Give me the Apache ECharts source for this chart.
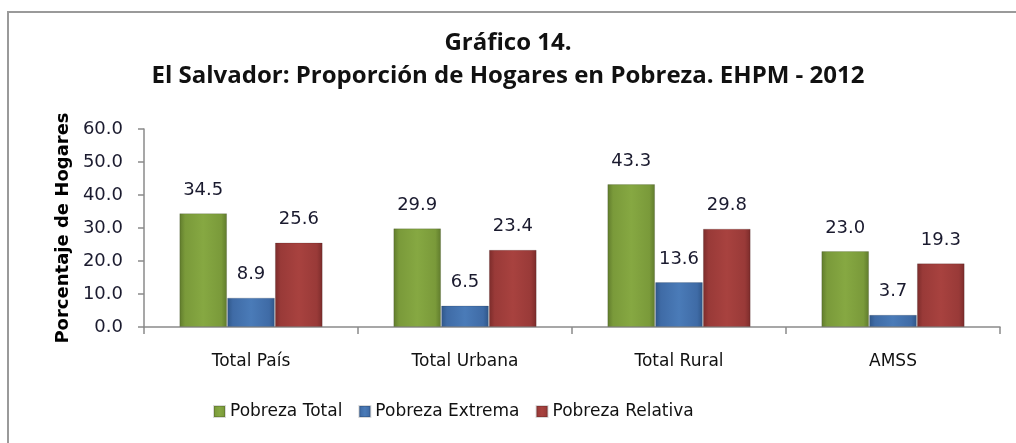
<!DOCTYPE html>
<html>
<head>
<meta charset="utf-8">
<script src="https://cdn.jsdelivr.net/npm/echarts@6/dist/echarts.min.js"></script>
<style>
html,body{margin:0;padding:0;background:#fff;}
#chart{width:1016px;height:443px;}
</style>
</head>
<body>
<div id="chart"></div>
<script>
var categories=['Total País','Total Urbana','Total Rural','AMSS'];
var pobrezaTotal=[34.5,29.9,43.3,23.0];
var pobrezaExtrema=[8.9,6.5,13.6,3.7];
var pobrezaRelativa=[25.6,23.4,29.8,19.3];
var yTicks=[0,10,20,30,40,50,60];

var chart=echarts.init(document.getElementById('chart'));

// degradado horizontal para imitar el bisel de las barras
function bevel(dark,base,light){
	return {
		type:'linear',x:0,y:0,x2:1,y2:0,
		colorStops:[
			{offset:0,color:dark},
			{offset:0.12,color:base},
			{offset:0.5,color:light},
			{offset:0.88,color:base},
			{offset:1,color:dark}
		]
	};
}

var labelStyle={
	show:true,
	position:'top',
	distance:14,
	fontFamily:'DejaVu Sans',
	fontSize:18,
	color:'#1a1a2e',
	formatter:function(p){return p.value.toFixed(1);}
};

function barSeries(name,data,color){
	return {
		name:name,
		type:'bar',
		data:data,
		barGap:'0%',
		barCategoryGap:'33%',
		itemStyle:{color:color,borderColor:'rgba(0,0,0,0.15)',borderWidth:1},
		label:labelStyle
	};
}

var option={
	animation:false,
	title:{
		text:'Gráfico 14.\nEl Salvador: Proporción de Hogares en Pobreza. EHPM - 2012',
		left:'center',
		top:22,
		textStyle:{
			fontFamily:'Open Sans',
			fontWeight:'bold',
			fontSize:24,
			lineHeight:33,
			color:'#111'
		}
	},
	legend:{
		bottom:18,
		left:208,
		itemWidth:11,
		itemHeight:11,
		itemGap:16,
		icon:'rect',
		textStyle:{fontFamily:'DejaVu Sans',fontSize:17,color:'#111'},
		data:['Pobreza Total','Pobreza Extrema','Pobreza Relativa']
	},
	grid:{left:144,right:16,top:129,bottom:116},
	xAxis:{
		type:'category',
		data:categories,
		axisLine:{lineStyle:{color:'#8a8a8a',width:1.5}},
		axisTick:{show:true,length:7,lineStyle:{color:'#8a8a8a',width:1.5}},
		axisLabel:{fontFamily:'DejaVu Sans',fontSize:17,color:'#111',margin:26}
	},
	yAxis:{
		type:'value',
		min:yTicks[0],
		max:yTicks[yTicks.length-1],
		interval:10,
		name:'Porcentaje de Hogares',
		nameLocation:'middle',
		nameGap:72,
		nameTextStyle:{fontFamily:'DejaVu Sans',fontWeight:'bold',fontSize:18,color:'#000'},
		axisLine:{show:true,lineStyle:{color:'#8a8a8a',width:1.5}},
		axisTick:{show:true,length:6,lineStyle:{color:'#8a8a8a',width:1.5}},
		splitLine:{show:false},
		axisLabel:{fontFamily:'DejaVu Sans',fontSize:18,color:'#1a1a2e',margin:21,
			formatter:function(v){return v.toFixed(1);}}
	},
	graphic:[{
		type:'rect',
		shape:{x:8,y:12,width:1030,height:460},
		style:{fill:'none',stroke:'#9a9a9a',lineWidth:2},
		silent:true
	}],
	series:[
		barSeries('Pobreza Total',pobrezaTotal,bevel('#5f7a2c','#7a9a3a','#86a842')),
		barSeries('Pobreza Extrema',pobrezaExtrema,bevel('#2f5688','#3f6ba6','#4a7bb8')),
		barSeries('Pobreza Relativa',pobrezaRelativa,bevel('#7a2b2a','#993a38','#a8423f'))
	]
};

chart.setOption(option);
window.addEventListener('resize',function(){
	chart.resize();
});
</script>
</body>
</html>
